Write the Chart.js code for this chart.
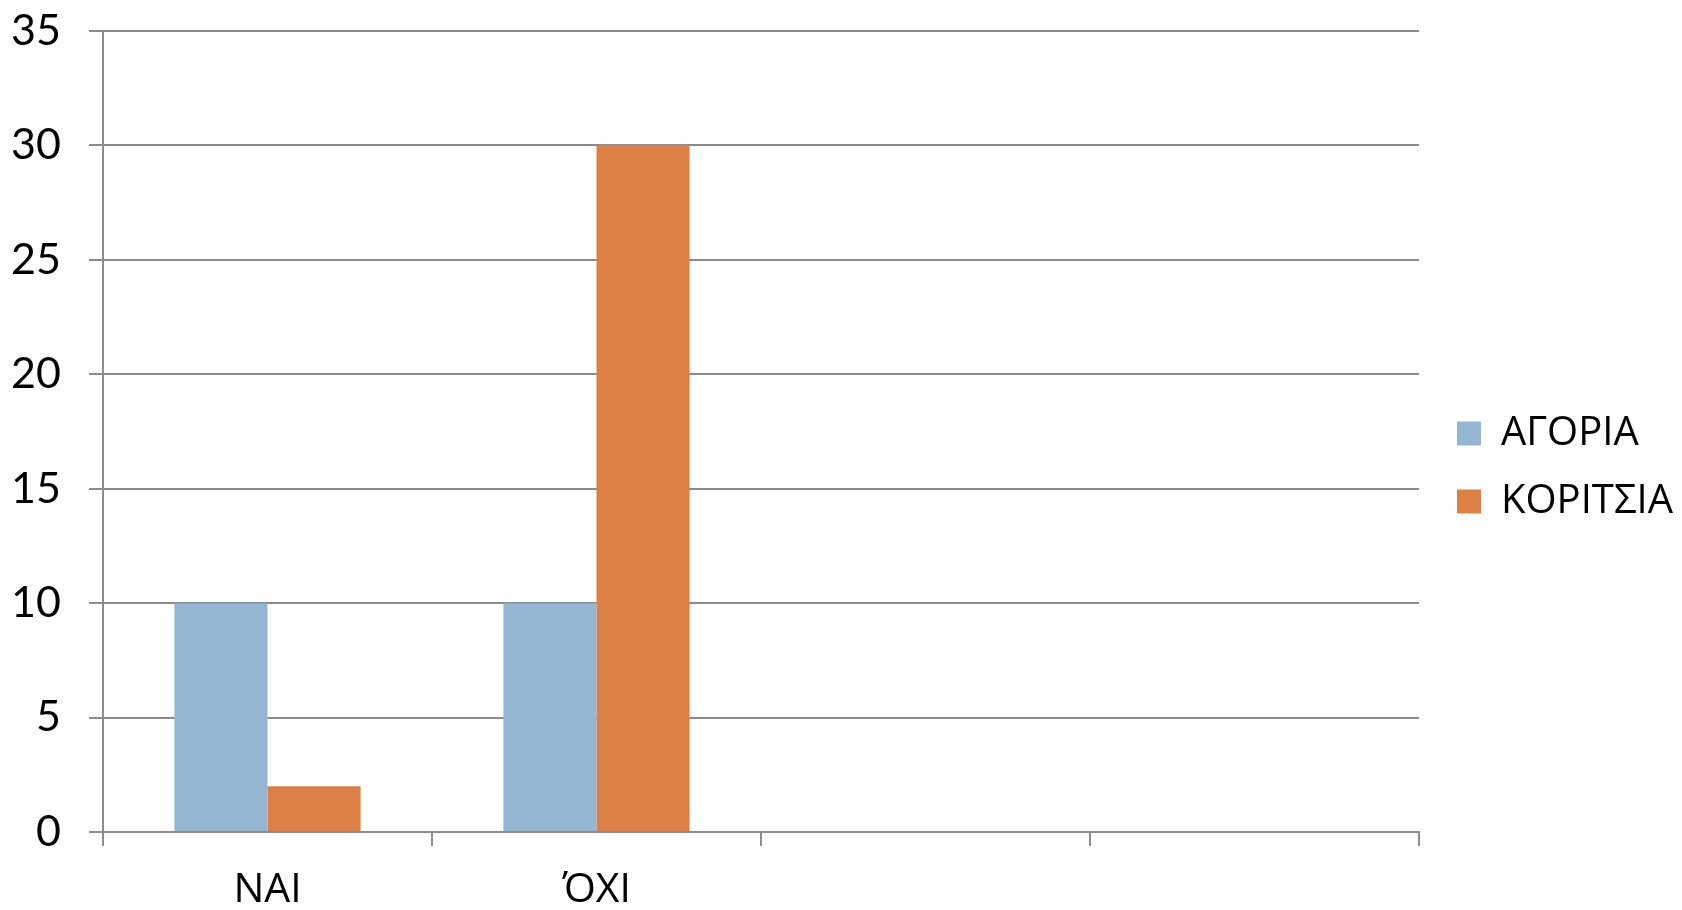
<!DOCTYPE html>
<html>
<head>
<meta charset="utf-8">
<script src="https://cdn.jsdelivr.net/npm/chart.js@4.4.1/dist/chart.umd.min.js"></script>
<style>
  html, body { margin: 0; padding: 0; background: #fff; }
  #wrap { width: 1682px; height: 910px; }
</style>
</head>
<body>
<div id="wrap"><canvas id="bar-chart" width="1682" height="910"></canvas></div>
<script>
const categories = ["NAI", "ΌΧΙ", "", ""];
const boys = [10, 10, null, null];
const girls = [2, 30, null, null];
const seriesNames = ["ΑΓΟΡΙΑ", "ΚΟΡΙΤΣΙΑ"];
const yTicks = [0, 5, 10, 15, 20, 25, 30, 35];

const gridGray = "#8c8c8c";

// nudge the legend a bit further from the plot, like the original
const legendNudge = {
  id: 'legendNudge',
  afterLayout(chart) {
    const lg = chart.legend;
    if (!lg) return;
    lg.left += 10;
    lg.right += 10;
    lg.top -= 3;
    lg.bottom -= 3;
  }
};

let chart = new Chart(document.getElementById("bar-chart"), {
  type: 'bar',
  data: {
    labels: categories,
    datasets: [
      { label: seriesNames[0], data: boys, backgroundColor: "#95b6d3", categoryPercentage: 0.566, barPercentage: 1.0 },
      { label: seriesNames[1], data: girls, backgroundColor: "#dd8047", categoryPercentage: 0.566, barPercentage: 1.0 }
    ]
  },
  plugins: [legendNudge],
  options: {
    responsive: false,
    animation: false,
    layout: { padding: { left: 10, top: 31, right: 9, bottom: 0 } },
    plugins: {
      tooltip: { enabled: false },
      legend: {
        position: 'right',
        labels: {
          font: { family: "Open Sans", size: 40 },
          color: "#000",
          boxWidth: 24,
          boxHeight: 24,
          padding: 28
        }
      }
    },
    scales: {
      x: {
        grid: { drawOnChartArea: false, drawTicks: true, tickLength: 14, color: gridGray, lineWidth: 2 },
        border: { color: gridGray, width: 2 },
        ticks: { font: { family: "Open Sans", size: 41 }, color: "#000", padding: 20 },
        afterFit: function(s) { s.height = 78; s.paddingLeft = 0; s.paddingRight = 0; }
      },
      y: {
        min: 0,
        max: 35,
        afterBuildTicks: function(s) { s.ticks = yTicks.map(v => ({ value: v })); },
        grid: { color: gridGray, lineWidth: 2, tickLength: 14 },
        border: { color: gridGray, width: 2 },
        ticks: { font: { family: "Lato", size: 43 }, color: "#000", padding: 28 },
        afterFit: function(s) { s.width = 93; s.paddingTop = 0; s.paddingBottom = 0; }
      }
    }
  }
});
</script>
</body>
</html>
